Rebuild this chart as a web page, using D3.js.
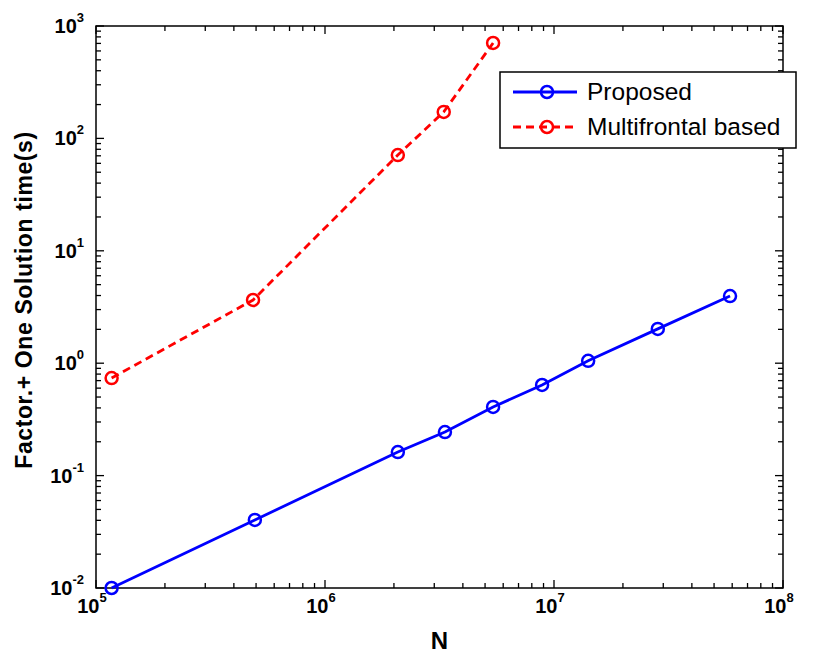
<!DOCTYPE html>
<html>
<head>
<meta charset="utf-8">
<script src="https://cdn.jsdelivr.net/npm/d3@7"></script>
<style>
  body { margin: 0; background: #fff; }
  text { font-family: "Liberation Sans", Arial, sans-serif; }
</style>
</head>
<body>
<div id="chart"></div>
<script>
// data
var sizesN = [1.17e5, 4.94e5, 2.08e6, 3.34e6, 5.42e6, 8.87e6, 1.41e7, 2.84e7, 5.87e7];
var proposedTime = [0.01, 0.0403, 0.162, 0.244, 0.408, 0.64, 1.05, 2.02, 3.96];
var multifrontalN = [1.17e5, 4.85e5, 2.08e6, 3.3e6, 5.42e6];
var multifrontalTime = [0.738, 3.65, 71.1, 172, 706];
var xTickExp = [5, 6, 7, 8];
var yTickExp = [-2, -1, 0, 1, 2, 3];
var seriesNames = ["Proposed", "Multifrontal based"];

var width = 830, height = 660;
var margin = {top: 26, right: 47, bottom: 72, left: 96};

var svg = d3.select("#chart").append("svg")
  .attr("width", width)
  .attr("height", height);

var x = d3.scaleLog()
  .domain([1e5, 1e8])
  .range([margin.left, width - margin.right]);
var y = d3.scaleLog()
  .domain([1e-2, 1e3])
  .range([height - margin.bottom, margin.top]);

var x0 = margin.left, x1 = width - margin.right;
var y0 = height - margin.bottom, y1 = margin.top;

// minor + major ticks, inward, on all four sides
function tickVals(lo, hi) {
  var out = [];
  for (var e = lo; e < hi; e++) {
    for (var m = 1; m < 10; m++) out.push({v: m * Math.pow(10, e), major: m === 1});
  }
  out.push({v: Math.pow(10, hi), major: true});
  return out;
}
var xt = tickVals(5, 8), yt = tickVals(-2, 3);
var tg = svg.append("g").attr("stroke", "#000").attr("stroke-width", 1.3);
xt.forEach(function (t) {
  var len = t.major ? 8 : 5;
  tg.append("line").attr("x1", x(t.v)).attr("x2", x(t.v)).attr("y1", y0).attr("y2", y0 - len);
  tg.append("line").attr("x1", x(t.v)).attr("x2", x(t.v)).attr("y1", y1).attr("y2", y1 + len);
});
yt.forEach(function (t) {
  var len = t.major ? 8 : 5;
  tg.append("line").attr("y1", y(t.v)).attr("y2", y(t.v)).attr("x1", x0).attr("x2", x0 + len);
  tg.append("line").attr("y1", y(t.v)).attr("y2", y(t.v)).attr("x1", x1).attr("x2", x1 - len);
});

svg.append("rect")
  .attr("x", x0).attr("y", y1)
  .attr("width", x1 - x0).attr("height", y0 - y1)
  .attr("fill", "none").attr("stroke", "#000").attr("stroke-width", 1.5);

// tick labels 10^k
xTickExp.forEach(function (e) {
  var t = svg.append("text")
    .attr("x", x(Math.pow(10, e)) - 4)
    .attr("y", y0 + 25)
    .attr("text-anchor", "middle")
    .style("font-weight", "bold").style("font-size", "20px");
  t.append("tspan").text("10");
  t.append("tspan").attr("dy", -11).style("font-size", "13px").text(e);
});
yTickExp.forEach(function (e) {
  var t = svg.append("text")
    .attr("x", x0 - 12)
    .attr("y", y(Math.pow(10, e)) + 7)
    .attr("text-anchor", "end")
    .style("font-weight", "bold").style("font-size", "20px");
  t.append("tspan").text("10");
  t.append("tspan").attr("dy", -11).style("font-size", "13px").text(e);
});

// axis titles
svg.append("text")
  .attr("x", (x0 + x1) / 2)
  .attr("y", 649)
  .attr("text-anchor", "middle")
  .style("font-weight", "bold").style("font-size", "24px")
  .text("N");
svg.append("text")
  .attr("transform", "translate(32,300) rotate(-90)")
  .attr("text-anchor", "middle")
  .style("font-weight", "bold").style("font-size", "23px")
  .style("letter-spacing", "0.6px")
  .text("Factor.+ One Solution time(s)");

// series
var line = d3.line().x(function (d) { return x(d[0]); }).y(function (d) { return y(d[1]); });
var blueData = d3.zip(sizesN, proposedTime);
var redData = d3.zip(multifrontalN, multifrontalTime);

svg.append("path").datum(redData)
  .attr("d", line).attr("fill", "none")
  .attr("stroke", "#ff0000").attr("stroke-width", 2.8)
  .attr("stroke-dasharray", "8,5");
svg.append("g").selectAll("circle").data(redData).enter()
  .append("circle")
  .attr("cx", function (d) { return x(d[0]); })
  .attr("cy", function (d) { return y(d[1]); })
  .attr("r", 6).attr("fill", "none")
  .attr("stroke", "#ff0000").attr("stroke-width", 2.5);

svg.append("path").datum(blueData)
  .attr("d", line).attr("fill", "none")
  .attr("stroke", "#0000ff").attr("stroke-width", 2.8);
svg.append("g").selectAll("circle").data(blueData).enter()
  .append("circle")
  .attr("cx", function (d) { return x(d[0]); })
  .attr("cy", function (d) { return y(d[1]); })
  .attr("r", 6).attr("fill", "none")
  .attr("stroke", "#0000ff").attr("stroke-width", 2.5);

// legend
var lg = svg.append("g");
lg.append("rect")
  .attr("x", 500).attr("y", 72).attr("width", 296).attr("height", 76)
  .attr("fill", "#fff").attr("stroke", "#000").attr("stroke-width", 1.5);
var colors = ["#0000ff", "#ff0000"];
seriesNames.forEach(function (name, i) {
  var ly = 92 + i * 35;
  lg.append("line")
    .attr("x1", 513).attr("x2", 577).attr("y1", ly).attr("y2", ly)
    .attr("stroke", colors[i]).attr("stroke-width", 2.8)
    .attr("stroke-dasharray", i === 1 ? "8,5" : null);
  lg.append("circle")
    .attr("cx", 547).attr("cy", ly).attr("r", 6)
    .attr("fill", "none").attr("stroke", colors[i]).attr("stroke-width", 2.5);
  lg.append("text")
    .attr("x", 587).attr("y", ly + 8)
    .style("font-size", "24.5px")
    .text(name);
});
</script>
</body>
</html>
